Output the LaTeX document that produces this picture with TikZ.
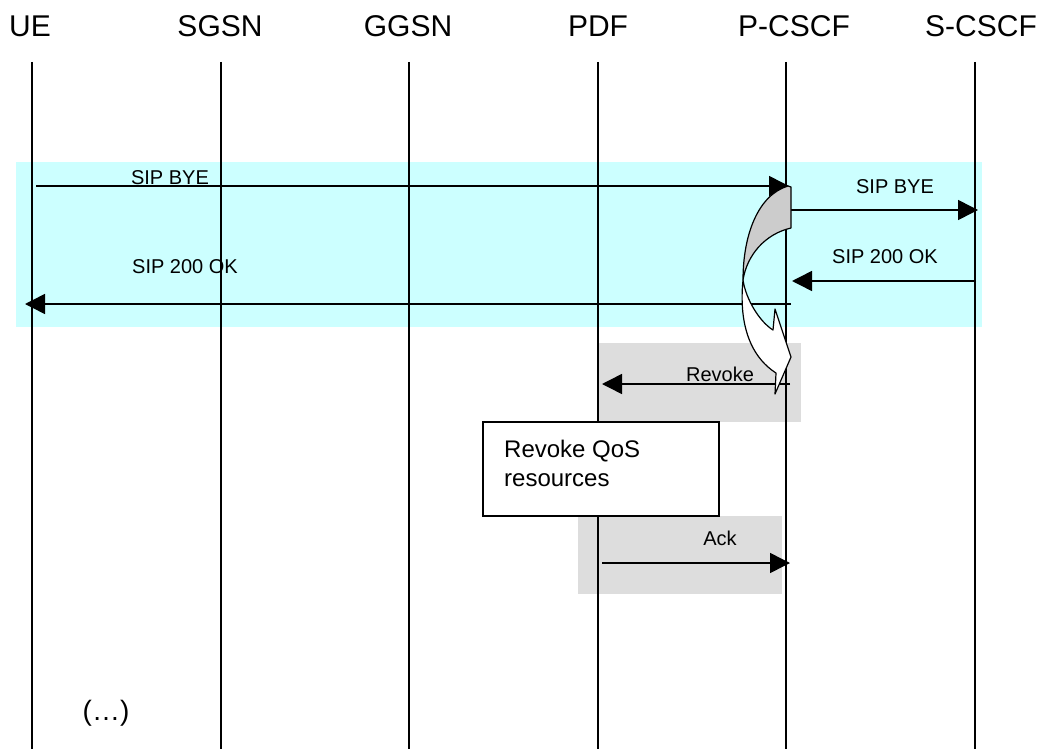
\documentclass[tikz,border=0pt]{standalone}
\usepackage{fontspec}
\setmainfont{Liberation Sans}
\usetikzlibrary{arrows.meta}
\definecolor{bandcyan}{HTML}{CCFFFF}
\definecolor{boxgray}{HTML}{DDDDDD}
\definecolor{twistgray}{HTML}{CCCCCC}
\tikzset{
  headlbl/.style={anchor=base, inner sep=0pt, font=\fontsize{30}{36}\selectfont},
  msglbl/.style={anchor=base, inner sep=0pt, font=\fontsize{20}{24}\selectfont},
  lifeline/.style={line width=1.5pt},
  msg/.style={line width=1.5pt, -{Triangle[length=20pt,width=20pt]}},
  actbox/.style={draw=black, line width=1.5pt, fill=white, inner sep=0pt},
  bandfill/.style={fill=bandcyan, draw=none},
  grayfill/.style={fill=boxgray, draw=none},
}
\begin{document}
\begin{tikzpicture}[x=1pt,y=-1pt]
\useasboundingbox (0,0) rectangle (1041,749);
% background regions
\fill[bandcyan] (16,162) rectangle (982,327);
\fill[boxgray] (598,343) rectangle (801,422);
\fill[boxgray] (578,516) rectangle (782,594);
% lifeline heads
\node[headlbl] (hUE) at (30,37) {UE};
\node[headlbl] (hSGSN) at (220,37) {SGSN};
\node[headlbl] (hGGSN) at (408,37) {GGSN};
\node[headlbl] (hPDF) at (598,37) {PDF};
\node[headlbl] (hPC) at (794,37) {P-CSCF};
\node[headlbl] (hSC) at (981,37) {S-CSCF};
% lifelines
\foreach \n/\x in {UE/32, SGSN/221, GGSN/409, PDF/598, PC/786, SC/975}{
  \coordinate (\n top) at (\x,62);
  \coordinate (\n bot) at (\x,749);
  \draw[lifeline] (\n top) -- (\n bot);
}
% message end points
\coordinate (m1s) at (36,186);  \coordinate (m1e) at (789,186);
\coordinate (m2s) at (790,210); \coordinate (m2e) at (978,210);
\coordinate (m3s) at (976,281); \coordinate (m3e) at (792,281);
\coordinate (m4s) at (791,304); \coordinate (m4e) at (25,304);
\coordinate (m5s) at (790,384); \coordinate (m5e) at (602,384);
\coordinate (m6s) at (602,563); \coordinate (m6e) at (790,563);
% messages
\draw[msg] (m1s) -- (m1e);
\draw[msg] (m2s) -- (m2e);
\draw[msg] (m3s) -- (m3e);
\draw[msg] (m4s) -- (m4e);
\draw[msg] (m5s) -- (m5e);
\draw[msg] (m6s) -- (m6e);
% labels
\node[msglbl] (l1) at (170,184) {SIP BYE};
\node[msglbl] (l2) at (895,193) {SIP BYE};
\node[msglbl] (l3) at (885,263) {SIP 200 OK};
\node[msglbl] (l4) at (185,273) {SIP 200 OK};
\node[msglbl] (l5) at (720,381) {Revoke};
\node[msglbl] (l6) at (720,545) {Ack};
% action box
\node[actbox, minimum width=236pt, minimum height=94pt] (qos) at (601,469) {};
\node[anchor=north west, inner sep=0pt, align=left,
      font=\fontsize{24}{29}\selectfont] (qostxt) at (504,440) {Revoke QoS\\resources};
% twisted curved block arrow
\coordinate (tA) at (788,186);
\coordinate (tX) at (743,280);
\filldraw[fill=twistgray, draw=black, line width=1.2pt, line join=round]
  (tA) -- (791,187) -- (791,228) .. controls (765,234) and (747,255) .. (tX)
  .. controls (743,235) and (758,195) .. cycle;
\filldraw[fill=white, draw=black, line width=1.2pt, line join=round]
  (tX) .. controls (739,320) and (748,355) .. (776,373) -- (775,394) -- (791,357)
  -- (775,309) -- (773,330) .. controls (760,322) and (746,300) .. cycle;
% ellipsis
\node[anchor=base, inner sep=0pt, font=\fontsize{28}{34}\selectfont] (etc) at (106,720) {(…)};
\end{tikzpicture}
\end{document}
